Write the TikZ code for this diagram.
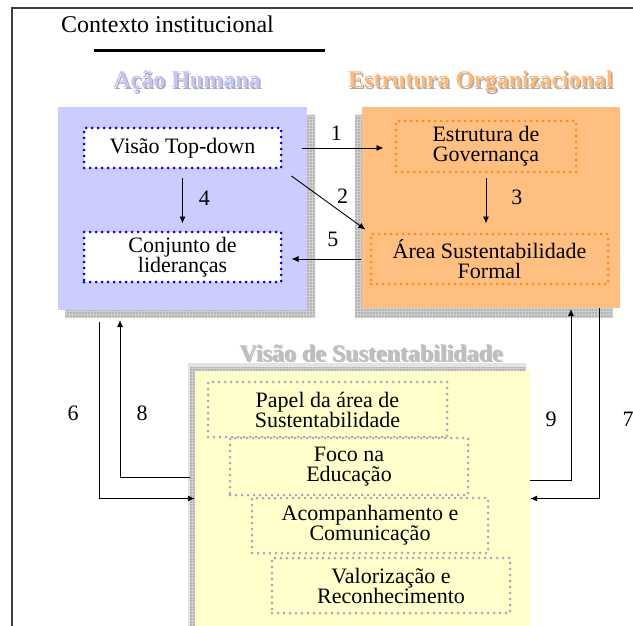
\documentclass[tikz,border=0pt]{standalone}
\usepackage{fontspec}
\setmainfont{Liberation Serif}
\usetikzlibrary{arrows.meta,patterns,positioning}
\definecolor{ahblue}{RGB}{204,204,255}
\definecolor{eoorange}{RGB}{255,191,128}
\definecolor{vsyellow}{RGB}{255,255,204}
\definecolor{ahtitle}{RGB}{196,196,250}
\definecolor{eotitle}{RGB}{255,186,120}
\definecolor{vstitle}{RGB}{190,190,190}
\definecolor{dotblue}{RGB}{0,0,235}
\definecolor{dotorange}{RGB}{255,140,30}
\definecolor{dotgrey}{RGB}{170,170,180}
\tikzstyle{shade}=[fill=gray!58, postaction={pattern=grid, pattern color=gray!38}]
\tikzstyle{panel}=[inner sep=0pt]
\tikzstyle{topic}=[align=center, inner sep=0pt, text=black, line width=3pt, line cap=round, dash pattern=on 0pt off 6pt, font=\fontsize{22}{20}\selectfont]
\tikzstyle{heading}=[anchor=base, inner sep=0pt, font=\bfseries\fontsize{24}{24}\selectfont]
\tikzstyle{num}=[inner sep=0pt, font=\fontsize{22}{22}\selectfont]

\begin{document}
\begin{tikzpicture}[x=1pt,y=-1pt,>={Latex[length=7pt,width=6pt]}]
	\useasboundingbox (0,0) rectangle (633,626);

	% moldura do contexto
	\draw[line width=1.5pt, black!75] (633,8) -- (12,8) -- (12,626);
	\draw node[anchor=base west, inner sep=0pt, font=\fontsize{24}{24}\selectfont] (ctx) at (61,33) {Contexto institucional};
	\draw[line width=3pt] (94,51) -- (325,51);

	% paineis com sombra
	\fill[shade] (65,115) rectangle (315,317);
	\draw node[panel, fill=ahblue, minimum width=249pt, minimum height=203pt] (ah) at (182.5,208.5) {};
	\fill[shade] (355,115) rectangle (613,317);
	\draw node[panel, fill=eoorange, minimum width=258pt, minimum height=201pt] (eo) at (491,207.5) {};
	\fill[gray!22] (188,363) rectangle (526,626);
	\fill[shade] (190,367) rectangle (526,626);
	\draw node[panel, fill=vsyellow, minimum width=335pt, minimum height=255pt] (vs) at (362.5,498.5) {};

	\draw node[heading, gray!65] (ahs) at (188.5,89.5) {Ação Humana};
	\draw node[heading, ahtitle] (aht) at (187,88) {Ação Humana};
	\draw node[heading, gray!65] (eos) at (482,89.5) {Estrutura Organizacional};
	\draw node[heading, eotitle] (eot) at (480.5,88) {Estrutura Organizacional};
	\draw node[heading, gray!50] (vss) at (372.5,362.5) {Visão de Sustentabilidade};
	\draw node[heading, vstitle] (vst) at (371,361) {Visão de Sustentabilidade};

	% caixas pontilhadas
	\draw node[topic, draw=dotblue, fill=white, minimum width=197pt, minimum height=40pt] (vtd) at (182.5,148) {Visão Top-down};
	\draw node[topic, draw=dotblue, fill=white, minimum width=197pt, minimum height=50pt] (cl) at (182.5,257) {Conjunto de\\lideranças};
	\draw node[topic, draw=dotorange, minimum width=180pt, minimum height=51pt] (eg) at (486,146.5) {Estrutura de\\Governança};
	\draw node[topic, draw=dotorange, minimum width=237pt, minimum height=50pt] (asf) at (489.5,259) {Área Sustentabilidade\\Formal};

	\draw node[topic, draw=dotgrey, minimum width=239pt, minimum height=55pt] (pap) at (327.5,409.5) {Papel da área de\\Sustentabilidade};
	\draw node[topic, draw=dotgrey, minimum width=238pt, minimum height=57pt] (foco) at (349,466.5) {Foco na\\Educação};
	\draw node[topic, draw=dotgrey, minimum width=236pt, minimum height=55pt] (acomp) at (370,525.5) {Acompanhamento e\\Comunicação};
	\draw node[topic, draw=dotgrey, minimum width=238pt, minimum height=55pt] (valor) at (391,585.5) {Valorização e\\Reconhecimento};

	\path[->, line width=0.9pt]
	(vtd.east) edge[shorten <=19pt, shorten >=11pt] node[num, pos=.48, above=7pt] (n1) {1} (vtd.east -| eg.west)
	(vtd.south east) edge[shorten <=11pt, shorten >=5pt] node[num, pos=.6, above right=3pt and 2pt] (n2) {2} (asf.north west)
	(eg.south) edge[shorten <=5pt, shorten >=9pt] node[num, pos=.4, right=25pt] (n3) {3} (eg.south |- asf.north)
	(vtd.south) edge[shorten <=9pt, shorten >=7pt] node[num, pos=.47, right=16pt] (n4) {4} (cl.north)
	(asf.west) edge[shorten <=9pt, shorten >=9pt] node[num, pos=.42, above=12pt] (n5) {5} (asf.west -| cl.east)
	;

	% setas em cotovelo
	\coordinate (s6) at (99,322);
	\coordinate (s7) at (599,308);
	\coordinate (s8) at (190,477);
	\coordinate (e8) at (120,320);
	\coordinate (s9) at (530,480);
	\coordinate (e9) at (571,309);
	\draw[->, line width=0.9pt] (s6) |- (vs.west);
	\draw[->, line width=0.9pt] (s7) |- (vs.east);
	\draw[->, line width=0.9pt] (s8) -| (e8);
	\draw[->, line width=0.9pt] (s9) -| (e9);
	\draw node[num] (n6) at (73,413) {6};
	\draw node[num] (n8) at (142,413) {8};
	\draw node[num] (n9) at (551,419) {9};
	\draw node[num] (n7) at (628,419) {7};
\end{tikzpicture}
\end{document}
